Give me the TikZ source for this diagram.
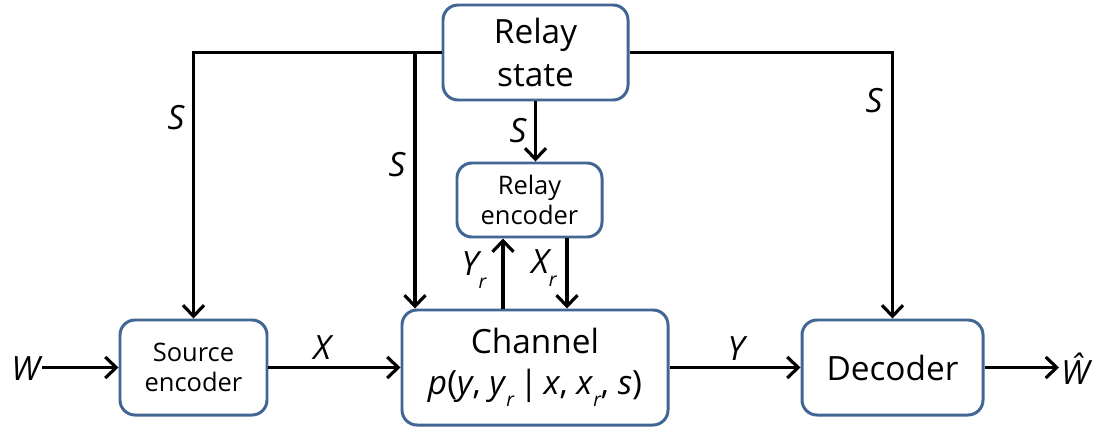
\documentclass[tikz,border=0pt]{standalone}
\usepackage{fontspec}
\setmainfont{Open Sans}
\usepackage{tikz}
\usetikzlibrary{arrows.meta}
\definecolor{boxblue}{RGB}{65, 102, 148}

\tikzset{
  blk/.style={draw=boxblue, line width=1.7pt, rounded corners=3mm, fill=white,
    align=center, inner sep=0pt},
  link/.style={line width=2.1pt, -{Straight Barb[length=2.2mm, width=4.2mm, line width=1.8pt]}},
  sym/.style={font=\fontsize{19}{22}\selectfont\itshape, inner sep=1pt},
}
\newcommand{\subr}{\raisebox{-0.7ex}{\fontsize{11}{12}\selectfont\itshape r}}

\begin{document}
\begin{tikzpicture}[x=0.2mm, y=-0.2mm]
  \useasboundingbox (0,0) rectangle (1111,429);
  % blocks
  \node[blk, minimum width=37mm, minimum height=19mm, font=\fontsize{19}{25}\selectfont]
    (relaystate) at (535.5,52.5) {Relay\\state};
  \node[blk, minimum width=29mm, minimum height=14.8mm, font=\fontsize{14.5}{17}\selectfont]
    (relayenc) at (529.5,200) {Relay\\encoder};
  \node[blk, minimum width=53.2mm, minimum height=23mm, font=\fontsize{19}{25}\selectfont]
    (channel) at (535,367.5) {Channel\\[-2pt]{\itshape p}(\textit{y}, \textit{y}\subr\,|\,\textit{x}, \textit{x}\subr, \textit{s})};
  \node[blk, minimum width=29.4mm, minimum height=19mm, font=\fontsize{14.5}{17}\selectfont]
    (srcenc) at (193.5,367.5) {Source\\encoder};
  \node[blk, minimum width=36.2mm, minimum height=19mm, font=\fontsize{19}{22}\selectfont]
    (decoder) at (892.5,367.5) {Decoder};
  % end symbols
  \node[sym, anchor=east] (w) at (42,369) {W};
  \node[sym, anchor=west] (what) at (1059,369) {Ŵ};
  % helper points for the taps
  \coordinate (tapc) at (415,52.5);
  \coordinate (yrx) at (503,0);
  \coordinate (xrx) at (567,0);
  % state lines
  \draw[link] (relaystate.west) -| (srcenc.north);
  \draw[link] (relaystate.east) -| (decoder.north);
  \draw[link] (tapc) -- (tapc |- channel.north);
  \draw[link] (relaystate.south) -- (relaystate.south |- relayenc.north);
  % relay loop
  \draw[link] (yrx |- channel.north) -- (yrx |- relayenc.south);
  \draw[link] (xrx |- relayenc.south) -- (xrx |- channel.north);
  % main chain
  \draw[link] (w.east |- srcenc.west) -- (srcenc.west);
  \draw[link] (srcenc.east) -- (channel.west |- srcenc.east);
  \draw[link] (channel.east |- decoder.west) -- (decoder.west);
  \draw[link] (decoder.east) -- (decoder.east -| what.west);
  % labels
  \node[sym] (s1) at (176,118) {S};
  \node[sym] (s2) at (397,165) {S};
  \node[sym] (s3) at (518,131) {S};
  \node[sym] (s4) at (874,101) {S};
  \node[sym] (lx) at (322,348) {X};
  \node[sym] (ly) at (736,349) {Y};
  \node[sym] (lyr) at (474,270) {Y\subr};
  \node[sym] (lxr) at (544,268) {X\subr};
\end{tikzpicture}
\end{document}
